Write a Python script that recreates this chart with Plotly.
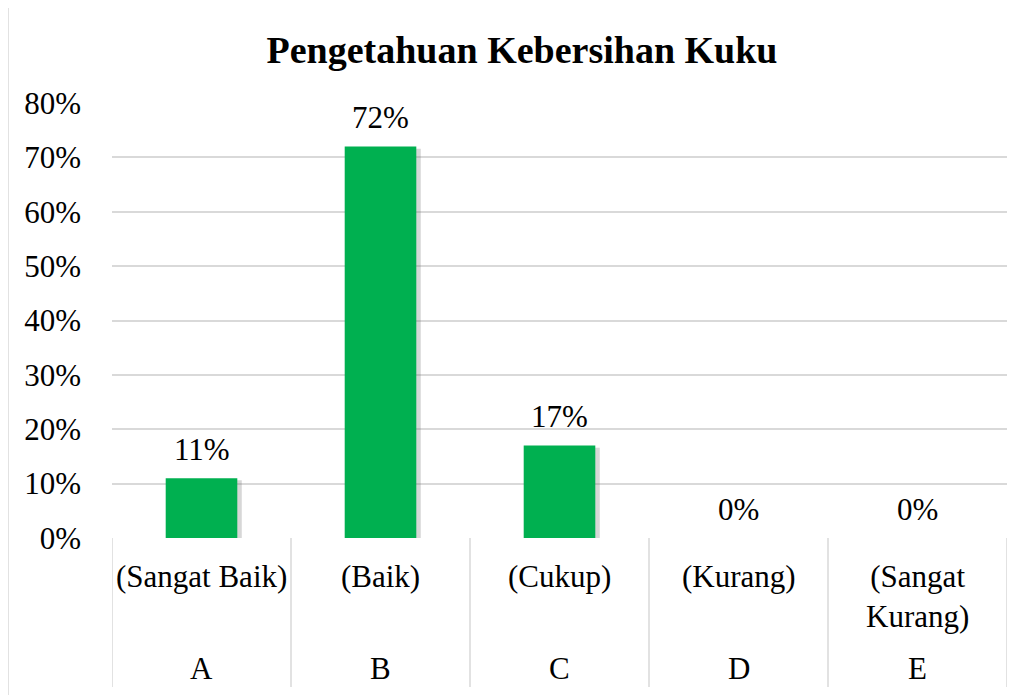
import plotly.graph_objects as go

# chart data
codes = ['A', 'B', 'C', 'D', 'E']
levels = ['(Sangat Baik)', '(Baik)', '(Cukup)', '(Kurang)', '(Sangat<br>Kurang)']
values = [0.11, 0.72, 0.17, 0.0, 0.0]
y_ticks = [0, 0.1, 0.2, 0.3, 0.4, 0.5, 0.6, 0.7, 0.8]

FONT = 'Liberation Serif'
GREEN = '#00B050'
GRID = '#D9D9D9'
TXT = 31

xpos = list(range(len(codes)))

fig = go.Figure()

# soft shadow on the right side of each bar
fig.add_trace(go.Bar(
    x=xpos, y=[v - 0.004 if v > 0 else 0 for v in values],
    width=0.4, offset=-0.2 + 0.025,
    marker=dict(color='rgba(110,110,110,0.28)', line=dict(width=0)),
    hoverinfo='skip', showlegend=False
))

fig.add_trace(go.Bar(
    x=xpos, y=values,
    width=0.4, offset=-0.2,
    marker=dict(color=GREEN, line=dict(width=0)),
    hoverinfo='skip', showlegend=False
))

annotations = []
# value labels above the bars
for i, v in enumerate(values):
    annotations.append(dict(
        x=i, y=v, xref='x', yref='y',
        text='{:.0f}%'.format(v * 100),
        showarrow=False, yanchor='middle', yshift=29,
        font=dict(family=FONT, size=TXT, color='black')
    ))

# two-row category labels
for i in range(len(codes)):
    annotations.append(dict(
        x=i, y=-0.043, xref='x', yref='paper',
        text=levels[i], showarrow=False, yanchor='top',
        font=dict(family=FONT, size=TXT, color='black')
    ))
    annotations.append(dict(
        x=i, y=-0.299, xref='x', yref='paper',
        text=codes[i], showarrow=False, yanchor='middle',
        font=dict(family=FONT, size=TXT, color='black')
    ))

shapes = []
# vertical separators between categories
for i in range(len(codes) + 1):
    shapes.append(dict(
        type='line', xref='x', yref='paper',
        x0=i - 0.5, x1=i - 0.5, y0=0, y1=-0.3425,
        line=dict(color=GRID, width=1.5)
    ))

# chart border
shapes.append(dict(
    type='rect', xref='paper', yref='paper',
    x0=-0.1162, x1=1.2, y0=-0.5, y1=1.2276,
    line=dict(color=GRID, width=1.5), layer='below'
))

# page body adds an 8px offset, so the figure is 8px smaller and margins shifted
fig.update_layout(
    width=1017, height=687,
    margin=dict(l=104, r=18, t=95, b=157),
    title=dict(
        text='<b>Pengetahuan Kebersihan Kuku</b>',
        x=514 / 1017, xanchor='center',
        y=1 - 42 / 687, yanchor='middle',
        font=dict(family=FONT, size=38, color='black')
    ),
    barmode='overlay',
    plot_bgcolor='white',
    paper_bgcolor='white',
    annotations=annotations,
    shapes=shapes,
    showlegend=False
)

fig.update_xaxes(
    range=[-0.5, 4.5], showticklabels=False, showgrid=False,
    zeroline=False, showline=False, fixedrange=True
)
fig.update_yaxes(
    range=[0, 0.8], tickvals=y_ticks, tickformat='.0%',
    showgrid=True, gridcolor=GRID, gridwidth=1.5,
    zeroline=False, showline=False, ticks='',
    ticklabelstandoff=30,
    tickfont=dict(family=FONT, size=TXT, color='black'),
    fixedrange=True
)

fig.write_html('out.html')
